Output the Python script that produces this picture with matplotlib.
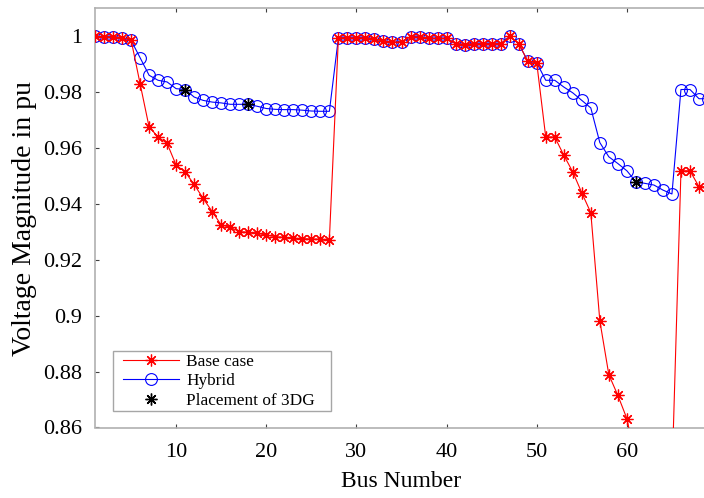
import matplotlib
matplotlib.use("Agg")
import matplotlib.pyplot as plt
from matplotlib.ticker import FormatStrFormatter
from matplotlib.legend_handler import HandlerLine2D
import numpy as np

plt.rcParams['font.family'] = ['Liberation Serif', 'DejaVu Serif']

# bus voltages (pu), 69-bus feeder
bus = np.arange(1, 70)

v_base = [1.0000, 0.9999, 0.9998, 0.9996, 0.9988, 0.9831, 0.9676, 0.9640, 0.9617, 0.9539,
          0.9515, 0.9470, 0.9420, 0.9373, 0.9325, 0.9317, 0.9301, 0.9299, 0.9295, 0.9289,
          0.9283, 0.9281, 0.9278, 0.9276, 0.9275, 0.9274, 0.9273, 0.9995, 0.9995, 0.9995,
          0.9995, 0.9992, 0.9983, 0.9979, 0.9981, 0.9999, 0.9998, 0.9993, 0.9993, 0.9993,
          0.9974, 0.9971, 0.9974, 0.9974, 0.9974, 0.9974, 1.0000, 0.9974, 0.9912, 0.9906,
          0.9640, 0.9640, 0.9575, 0.9515, 0.9440, 0.9369, 0.8982, 0.8789, 0.8715, 0.8632,
          0.8480, 0.8470, 0.8460, 0.8430, 0.8420, 0.9519, 0.9519, 0.9462, 0.9462]

v_hybrid = [1.0000, 0.9999, 0.9998, 0.9996, 0.9986, 0.9924, 0.9861, 0.9843, 0.9837, 0.9813,
            0.9810, 0.9783, 0.9771, 0.9765, 0.9762, 0.9757, 0.9757, 0.9757, 0.9750, 0.9742,
            0.9739, 0.9738, 0.9738, 0.9736, 0.9733, 0.9732, 0.9732, 0.9995, 0.9995, 0.9995,
            0.9995, 0.9992, 0.9983, 0.9979, 0.9981, 0.9999, 0.9998, 0.9993, 0.9993, 0.9993,
            0.9974, 0.9971, 0.9974, 0.9974, 0.9974, 0.9974, 1.0000, 0.9974, 0.9912, 0.9906,
            0.9843, 0.9843, 0.9819, 0.9798, 0.9771, 0.9744, 0.9620, 0.9569, 0.9545, 0.9519,
            0.9480, 0.9474, 0.9468, 0.9450, 0.9436, 0.9810, 0.9810, 0.9777, 0.9777]

dg_bus = [11, 18, 61]

v_base = np.array(v_base)
v_hybrid = np.array(v_hybrid)
dg_idx = np.array(dg_bus) - 1

ast = (8, 2, 0)   # 8-spoke asterisk

fig = plt.figure(figsize=(7.04, 4.98), dpi=100)
ax = fig.add_axes([95/704, 70.5/498, 613/704, 419/498])

h2, = ax.plot(bus, v_hybrid, color='blue', lw=0.8, marker='o', ms=8.5,
              mfc='none', mec='blue', mew=0.8, zorder=2, label='Hybrid')
h1, = ax.plot(bus, v_base, color='red', lw=0.8, marker=ast, ms=8.5,
              mec='red', mew=0.9, zorder=3, label='Base case')
h3, = ax.plot(bus[dg_idx], v_hybrid[dg_idx], ls='none', marker=ast, ms=8.5,
              mec='black', mew=1.0, zorder=4, label='Placement of 3DG   ')

ax.set_xlim(1, 69)
ax.set_ylim(0.86, 1.01)
ax.set_xticks([10, 20, 30, 40, 50, 60])
ax.set_yticks(np.arange(0.86, 1.001, 0.02))
ax.yaxis.set_major_formatter(FormatStrFormatter('%g'))

for s in ax.spines.values():
    s.set_color('#b0b0b0')
    s.set_linewidth(1.2)
ax.tick_params(direction='in', length=3, width=0.8, color='#404040',
               top=True, right=True, labelsize=16)
ax.tick_params(axis='x', pad=11)
ax.tick_params(axis='y', pad=9.5)

ax.set_xlabel('Bus Number', fontsize=17, labelpad=6.5)
ax.set_ylabel('Voltage Magnitude in pu', fontsize=20, labelpad=4)

hl = HandlerLine2D(xpad=0.46)
leg = ax.legend(handles=[h1, h2, h3], loc='lower left',
                bbox_to_anchor=(0.029, 0.039), borderaxespad=0,
                fontsize=12.4, frameon=True, fancybox=False,
                handlelength=3.72, handletextpad=0.4, labelspacing=0.2,
                borderpad=0.15, handler_map={h1: hl, h2: hl, h3: hl})
leg.get_frame().set_edgecolor('#909090')
leg.get_frame().set_linewidth(1.0)

plt.savefig('out.png', dpi=100)
